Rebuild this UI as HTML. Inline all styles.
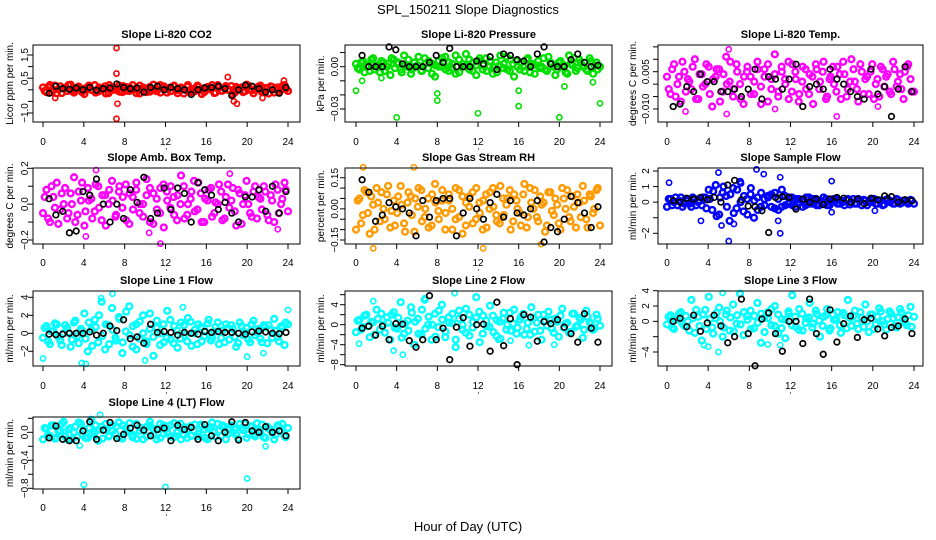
<!DOCTYPE html>
<html><head><meta charset="utf-8"><style>
html,body{margin:0;padding:0;background:#fff;}
svg{display:block;font-family:"Liberation Sans",Arial,sans-serif;}
</style></head><body>
<svg id="chart" width="936" height="540" viewBox="0 0 936 540" xmlns="http://www.w3.org/2000/svg">
<text x="468" y="14" text-anchor="middle" font-size="13">SPL_150211  Slope Diagnostics</text>
<text x="468" y="531" text-anchor="middle" font-size="13">Hour of Day (UTC)</text>
</svg>
<script>
// ---- data ----
const xTicks=[0,4,8,12,16,20,24];
const co2Color=[0.1,-0.1,0.2,0.0,-0.15,0.15,0.05,-0.05,0.22,-0.12,0.1,0.02,-0.18,0.12,0.0,0.2,-0.08,0.05,0.15,-0.14,0.08,0.0,0.18,-0.1,0.12,-0.05,0.2,0.02,-0.16,0.1,0.05,-0.08,0.22,0.0,-0.12,0.15,0.04,-0.06,0.18,-0.15,0.1,0.0,0.2,-0.1,0.06,0.14,-0.18,0.08,0.02,0.2,-0.12,0.1,-0.04,0.16,0.0,-0.2,0.12,0.05,-0.1,0.22,0.0,-0.15,0.1,0.18,-0.06,0.04,0.15,-0.12,0.1,0.0,0.2,-0.05];
const co2Color2=[-0.05,0.12,-0.1,0.18,0.02,-0.14,0.08,0.2,-0.06,0.0,0.14,-0.1,0.06,0.18,-0.02,-0.12,0.1,0.04,-0.16,0.2,0.0,0.08,-0.08,0.16,-0.04,0.1,0.02,-0.14,0.18,0.06,-0.1,0.12,0.0,-0.06,0.2,0.04,-0.12,0.1,0.16,-0.02,0.06,-0.16,0.14,0.0,-0.08,0.18,0.02,-0.1,0.12,0.06,-0.14,0.2,-0.04,0.08,0.0,0.16,-0.12,0.04,0.1,-0.06,0.18,-0.02,0.0,0.14,-0.1,0.08,-0.16,0.12,0.02,-0.08,0.16,0.04];
const co2Black=[-0.15,0.15,0.05,0.02,0.08,0.0,0.1,-0.02,0.05,0.08,0.25,0.1,0.05,0.08,-0.1,0.1,0.15,0.0,0.1,0.05,0.0,-0.2,0.0,0.08,0.1,0.15,0.05,-0.25,0.0,0.2,0.15,0.05,-0.1,0.0,-0.15,0.1];
const co2OutHours=[7.2,7.2,7.3,7.2,18.1,18.7,19.0,21.5,1.2,23.6];
const co2OutVals=[1.8,0.7,-0.6,-1.25,0.55,-0.5,-0.6,-0.35,-0.35,0.4];
const co2Ticks=[-1.0,-0.5,0,0.5,1.0,1.5];
const co2Labels=["-1.0","","","0.5","","1.5"];

const presColor=[0.002,-0.002,0.004,0.0,-0.003,0.006,0.001,-0.004,0.003,0.0,-0.006,0.005,0.002,-0.002,0.008,0.0,-0.005,0.003,0.001,-0.003,0.006,-0.001,0.002,-0.007,0.004,0.0,0.007,-0.003,0.002,-0.005,0.005,0.0,0.009,-0.002,0.003,-0.006,0.006,0.001,-0.003,0.004,0.0,-0.004,0.008,0.002,-0.002,0.005,-0.007,0.0,0.003,-0.003,0.006,0.001,-0.005,0.004,0.0,-0.002,0.007,0.002,-0.006,0.003,0.0,-0.004,0.008,0.001,-0.003,0.005,0.0,-0.002,0.006,-0.005,0.003,0.0];
const presColor2=[-0.001,0.003,-0.004,0.001,0.005,-0.002,0.0,0.004,-0.003,0.002,0.006,-0.001,0.003,-0.004,0.001,0.005,-0.002,0.0,0.007,-0.003,0.002,0.004,-0.005,0.001,0.0,0.006,-0.002,0.003,-0.001,0.008,-0.004,0.002,0.0,0.005,-0.003,0.001,0.004,-0.002,0.006,0.0,-0.005,0.003,0.001,-0.001,0.007,-0.003,0.002,0.004,-0.002,0.0,0.005,-0.004,0.002,0.001,-0.001,0.006,-0.003,0.003,0.0,-0.002,0.004,0.001,-0.005,0.002,0.006,-0.001,0.003,0.0,-0.003,0.004,0.001,-0.002];
const presBlack=[0.008,0.0,0.0,0.0,0.014,0.012,0.002,0.0,0.0,0.0,0.003,0.008,0.003,0.013,0.0,0.0,0.0,0.004,0.002,0.007,-0.002,0.009,0.008,0.005,0.004,0.0,0.009,0.014,0.002,0.0,0.0,0.005,0.009,0.003,0.0,0.001];
const presOutHours=[0,0.6,4,8,8,12,16,16,20,23.3,24,20.5,1.5,2.5];
const presOutVals=[-0.017,-0.01,-0.036,-0.024,-0.019,-0.033,-0.017,-0.028,-0.036,-0.011,-0.026,-0.014,0.005,-0.008];
const presTicks=[0.01,0,-0.01,-0.02,-0.03];
const presLabels=["","0.00","","","-0.03"];

const tempColor=[0.003,-0.004,0.008,0.0,-0.007,0.005,0.002,-0.002,0.01,-0.006,0.004,0.0,0.007,-0.009,0.003,0.006,-0.003,0.011,0.001,-0.005,0.008,0.0,-0.008,0.005,0.003,-0.004,0.009,-0.001,0.006,-0.007,0.002,0.012,-0.003,0.005,0.0,-0.006,0.008,0.002,-0.004,0.007,-0.002,0.004,-0.008,0.006,0.001,0.009,-0.005,0.003,0.0,0.007,-0.006,0.004,-0.002,0.01,0.001,-0.007,0.005,0.002,-0.004,0.008,0.0,-0.005,0.006,0.003,-0.003,0.009,-0.001,0.004,-0.006,0.007,0.002,-0.003];
const tempColor2=[-0.002,0.006,-0.005,0.003,0.009,-0.003,0.001,0.007,-0.006,0.004,-0.001,0.008,-0.004,0.002,0.006,-0.007,0.004,0.0,0.009,-0.002,0.005,-0.006,0.003,0.007,-0.004,0.001,0.006,-0.008,0.003,0.008,-0.002,0.004,-0.005,0.007,0.002,0.009,-0.003,0.005,-0.007,0.001,0.006,-0.004,0.003,0.008,-0.002,0.005,-0.006,0.002,0.007,-0.003,0.004,0.009,-0.005,0.001,0.006,-0.002,0.008,-0.004,0.003,0.005,-0.006,0.002,0.007,-0.001,0.004,-0.004,0.006,0.001,-0.002,0.005,0.008,-0.003];
const tempBlack=[-0.009,-0.008,-0.001,-0.003,0.004,0.001,0.001,-0.003,-0.003,-0.002,-0.005,-0.002,0.006,-0.006,0.003,0.002,-0.002,0.002,0.008,-0.009,-0.001,0.0,-0.002,0.006,0.002,0.0,-0.003,-0.005,-0.006,0.006,-0.004,-0.001,-0.013,-0.002,0.007,-0.003];
const tempOutHours=[1.8,6,5.8,16.5,10.5,20.5];
const tempOutVals=[-0.011,0.014,-0.012,-0.013,-0.01,-0.009];
const tempTicks=[0.015,0.01,0.005,0,-0.005,-0.01];
const tempLabels=["","","0.005","","","-0.010"];

const ambColor=[-0.05,0.08,-0.1,0.04,0.12,-0.03,0.0,-0.08,0.06,0.15,-0.06,0.02,-0.12,0.09,0.03,-0.04,0.1,-0.09,0.05,0.0,0.13,-0.07,0.07,-0.02,0.11,-0.11,0.04,0.08,-0.05,0.0,0.14,-0.1,0.06,-0.03,0.09,-0.13,0.02,0.1,-0.06,0.05,0.16,-0.08,0.0,0.07,-0.04,0.12,-0.1,0.03,0.08,-0.07,0.01,0.11,-0.09,0.04,-0.02,0.09,-0.12,0.06,0.0,0.13,-0.05,0.07,-0.08,0.03,0.1,-0.06,0.05,-0.1,0.08,0.0,0.12,-0.04];
const ambColor2=[0.04,-0.08,0.1,-0.02,-0.11,0.06,0.09,-0.05,0.0,-0.1,0.07,0.12,-0.04,0.02,-0.08,0.11,-0.02,0.05,-0.12,0.08,0.02,-0.06,0.1,0.04,-0.09,0.06,-0.03,0.12,0.0,-0.07,0.05,0.09,-0.11,0.03,-0.05,0.11,0.07,-0.02,0.04,-0.09,0.0,0.1,-0.06,0.03,0.13,-0.03,0.06,-0.1,0.02,0.09,-0.05,0.0,0.07,-0.08,0.11,0.02,-0.04,0.08,-0.11,0.05,0.0,-0.07,0.1,0.04,-0.03,0.07,-0.09,0.02,0.11,-0.05,0.03,0.08];
const ambBlack=[0.03,-0.06,-0.04,-0.16,-0.15,0.07,0.05,0.14,0.0,-0.1,0.0,-0.08,0.08,0.01,0.15,-0.08,-0.05,0.09,-0.03,0.09,0.06,-0.1,0.12,0.08,0.05,-0.03,0.01,-0.05,-0.1,0.04,0.04,0.08,-0.04,0.1,-0.05,0.07];
const ambOutHours=[4.2,5.2,11.5,10.4,18.3,23];
const ambOutVals=[-0.18,0.19,-0.22,-0.16,0.17,-0.14];
const ambTicks=[0.2,0.1,0,-0.1,-0.2];
const ambLabels=["0.2","","0.0","","-0.2"];

const rhColor=[-0.1,0.05,-0.03,0.08,-0.12,0.02,0.1,-0.06,0.0,0.07,-0.09,0.04,-0.02,0.11,-0.07,0.03,0.06,-0.11,0.01,0.09,-0.04,0.05,-0.08,0.12,-0.01,0.04,-0.1,0.07,0.0,-0.05,0.09,-0.12,0.03,0.06,-0.07,0.1,-0.02,0.04,-0.09,0.08,0.01,-0.06,0.11,-0.03,0.05,-0.1,0.07,0.0,-0.08,0.12,-0.04,0.03,0.09,-0.06,0.02,-0.11,0.08,-0.01,0.05,-0.07,0.1,0.0,-0.04,0.06,-0.09,0.03,0.11,-0.05,0.07,-0.02,0.09,-0.08];
const rhColor2=[0.04,-0.07,0.09,-0.02,0.06,-0.1,0.03,0.08,-0.05,0.11,-0.01,-0.08,0.06,0.02,-0.11,0.08,-0.03,0.05,0.1,-0.06,0.0,-0.09,0.07,0.03,-0.05,0.09,-0.02,0.04,-0.1,0.1,-0.04,0.06,-0.08,0.01,0.08,-0.05,0.03,-0.1,0.07,0.0,0.1,-0.03,-0.07,0.05,0.02,0.09,-0.06,0.04,-0.02,0.07,-0.09,0.1,0.0,-0.04,0.06,0.03,-0.08,0.08,-0.03,0.02,-0.1,0.05,0.09,-0.06,0.01,0.07,-0.04,0.04,-0.09,0.06,0.0,0.1];
const rhBlack=[0.14,0.08,-0.06,-0.03,0.03,0.01,0.0,-0.02,-0.13,0.04,-0.04,0.04,0.05,0.05,-0.13,-0.02,0.05,0.0,-0.05,0.03,0.07,-0.04,0.04,-0.02,-0.03,0.0,0.04,-0.16,-0.09,-0.11,-0.05,0.06,0.03,-0.02,-0.09,0.01];
const rhOutHours=[0.7,1.7,5.7,12.5,18.2];
const rhOutVals=[0.2,-0.19,0.2,-0.19,-0.17];
const rhTicks=[0.15,0.1,0.05,0,-0.05,-0.1,-0.15];
const rhLabels=["0.15","","","0.00","","","-0.15"];

const sfColor=[-0.3,0.2,0.0,-0.2,0.3,-0.1,0.1,-0.3,0.2,0.0,-0.2,0.3,0.8,-0.5,1.1,-0.8,0.6,0.4,-1.2,0.9,-0.4,1.3,-0.6,0.2,0.5,-1.0,0.3,-0.3,0.2,0.4,-0.3,0.6,-0.5,0.8,-0.2,0.3,-0.2,0.2,0.0,-0.3,0.3,-0.1,0.2,-0.2,0.1,0.3,-0.2,0.0,0.2,-0.1,0.1,-0.2,0.2,0.0,-0.1,0.2,-0.2,0.1,0.0,0.2,-0.1,0.1,-0.2,0.15,0.0,-0.1,0.2,-0.1,0.1,0.0,0.15,-0.1];
const sfColor2=[0.2,-0.2,0.3,0.1,-0.3,0.2,-0.1,0.3,-0.2,0.1,0.3,-0.4,0.2,0.7,-0.9,0.3,1.0,-0.3,0.5,-0.7,0.8,0.0,0.4,-0.8,0.9,0.1,-0.5,0.6,-0.2,0.3,0.5,-0.4,0.2,-0.3,0.4,-0.1,0.3,-0.3,0.2,0.1,-0.2,0.3,-0.1,0.2,-0.2,0.0,0.2,-0.2,0.1,0.2,-0.1,0.0,0.15,-0.15,0.2,-0.1,0.1,0.15,-0.2,0.0,0.2,-0.1,0.1,-0.15,0.2,0.05,-0.1,0.15,-0.05,0.1,-0.1,0.1];
const sfBlack=[0.1,0.0,0.25,0.2,0.3,0.15,0.3,0.0,1.1,1.4,0.15,-0.25,-0.3,-0.55,-1.95,0.3,0.35,0.3,-0.45,0.2,0.0,0.2,-0.15,0.2,0.3,0.25,0.0,0.2,-0.1,0.25,0.15,0.4,0.35,0.0,0.15,0.1];
const sfOutHours=[0.2,5,6,8.7,9.4,11,11,10.8,16,16,5.3,6.5,7.2,20.2,3.3];
const sfOutVals=[1.25,1.9,-2.5,2.1,1.8,1.6,-2,-1.2,1.35,-0.65,-1.5,-1.4,1.2,-0.55,-1.2];
const sfTicks=[2,1,0,-1,-2];
const sfLabels=["2","1","0","","-2"];

const l1Color=[-0.5,0.8,-1.2,0.3,1.0,-0.8,0.0,0.6,-1.5,1.2,-0.3,0.5,2.2,-2.0,0.4,1.5,-1.0,3.5,-1.8,0.9,2.8,-0.5,1.8,-2.2,0.2,3.0,-1.5,1.0,-0.6,2.0,-1.2,0.5,-2.5,1.4,0.0,-1.0,2.5,-0.7,0.8,-1.6,1.2,-0.2,1.7,-1.4,0.4,1.0,-0.9,0.2,1.5,-0.5,0.7,-1.2,0.3,1.0,-0.7,0.5,-1.5,1.2,-0.2,0.6,-1.0,1.4,0.1,-0.6,0.9,-1.1,0.4,1.6,-0.4,0.8,-1.3,1.0];
const l1Color2=[0.6,-0.9,0.2,1.1,-0.4,-1.3,0.9,0.1,-0.7,1.4,-1.1,0.3,-0.6,1.2,-1.4,0.7,2.0,-0.3,1.0,-1.2,0.4,-0.8,1.6,-1.0,2.4,-0.2,0.8,-1.8,1.3,0.0,-0.9,2.2,-0.4,0.6,-1.3,1.0,-0.5,1.5,-1.1,0.3,-0.6,0.9,-0.9,1.3,0.0,-1.2,0.7,-0.3,1.1,-0.8,0.2,1.2,-0.5,-1.0,0.6,0.9,-0.4,-1.1,0.8,0.1,-0.7,1.0,-0.2,0.5,-1.0,0.7,0.9,-0.5,0.3,-0.9,0.6,1.2];
const l1Black=[-0.1,-0.15,-0.1,0.0,0.0,0.0,0.15,-0.2,0.0,0.8,0.3,1.5,-0.6,-0.4,-1.1,1.0,0.1,0.2,0.1,-0.2,0.1,0.0,-0.1,0.2,0.1,0.2,0.1,0.1,0.0,-0.1,0.15,0.25,0.15,0.0,-0.05,0.1];
const l1OutHours=[0,3.8,4.2,6.8,5.7,10,20,24,13.7,21.6];
const l1OutVals=[-2.8,-3.3,-3.4,4.4,3.9,-3,-2.6,2.6,2.9,-2.2];
const l1Ticks=[4,2,0,-2];
const l1Labels=["4","2","0","-2"];

const l2Color=[-1.5,1.0,-0.5,2.0,-2.5,0.5,3.0,-1.0,0.0,1.5,-3.0,2.5,-0.8,4.5,-1.8,0.8,3.5,-4.0,1.2,-2.0,5.0,0.0,-3.0,2.2,-0.5,4.0,-2.5,1.5,0.3,-4.5,2.8,-1.0,3.2,-2.2,0.6,5.5,-3.5,1.8,-0.3,3.8,-1.5,0.9,-2.8,2.4,0.0,-1.2,3.0,-0.6,1.6,-2.0,0.4,3.5,-1.4,2.0,-3.0,0.8,2.6,-0.8,1.2,-2.4,3.2,0.2,-1.6,2.2,-0.4,1.4,-2.6,2.8,0.5,-1.0,2.0,-0.2];
const l2Color2=[0.8,-1.0,1.8,-0.3,0.6,-2.0,1.2,2.2,-1.6,0.4,2.0,-0.6,1.4,-2.6,0.2,-1.2,2.4,0.6,-1.8,3.0,-0.8,1.6,0.0,-2.4,2.8,1.0,-1.4,0.4,2.2,-3.0,1.2,0.0,-1.6,2.0,-0.6,1.4,2.6,-1.8,0.8,-0.4,1.8,-2.2,0.6,1.2,-1.0,2.4,0.2,-1.8,1.0,2.2,-0.8,-2.0,1.4,0.4,-1.2,2.0,-0.2,1.0,-1.6,0.6,1.8,-0.6,0.4,-1.4,2.2,-0.2,1.0,-1.0,1.6,0.2,-0.8,1.2];
const l2Black=[-0.7,-0.3,-2.1,-0.3,-3,0.2,0.1,-3.2,-4.5,-3,5.8,-3,-0.7,-7,-0.5,1.4,-4.3,0.0,0.1,-5.3,4.5,-4.2,1.2,-8,2,1.5,-3.3,0.6,0.2,1.0,-0.5,-1.8,-3.5,2.2,-0.7,-3.5];
const l2OutHours=[0.3,1.7,3.7,4.6,6.8,9.7,14,15.2,19.5,17];
const l2OutVals=[-3.8,4.7,-5.2,-6,5.3,6.3,-3,-3.2,-4,-4.1];
const l2Ticks=[6,4,2,0,-2,-4,-6,-8];
const l2Labels=["","4","","0","","-4","","-8"];

const l3Color=[-0.4,0.8,-1.0,0.3,1.2,-0.6,0.0,2.8,-1.5,0.6,-2.5,1.5,3.2,-0.8,0.4,1.8,-2.0,0.9,-1.2,2.2,-0.3,3.6,-1.8,0.7,1.4,-0.9,2.4,-2.8,0.5,1.2,-0.5,2.0,-1.6,0.3,-2.2,1.0,3.4,-0.7,1.6,-1.2,0.4,2.4,-0.3,1.0,-2.0,0.6,1.6,-0.9,0.2,1.2,-1.5,0.8,2.8,-0.6,1.4,-1.0,0.5,2.2,-1.4,0.9,-0.4,1.7,0.0,-1.1,1.3,0.4,-0.8,1.6,0.2,-0.5,1.9,0.6];
const l3Color2=[0.6,-0.8,0.2,1.0,-0.3,0.7,-1.2,0.4,1.5,-0.6,0.9,-1.0,0.3,-1.6,1.1,0.0,-0.8,1.4,0.5,-1.3,0.8,-0.4,1.2,0.2,-1.0,0.7,-0.2,1.0,-1.4,0.4,1.6,-0.6,0.9,-0.9,0.2,1.3,-0.5,0.6,-1.1,1.0,-0.2,0.5,-0.8,1.4,0.1,-0.6,0.8,-1.2,0.9,0.3,-0.5,1.1,-0.9,0.4,0.7,-0.3,1.2,-0.7,0.0,0.9,-1.0,0.6,1.3,-0.4,0.3,1.0,-0.6,0.5,1.2,-0.2,0.8,-0.7];
const l3Black=[0.0,0.4,-0.7,0.8,-1.3,-0.2,0.8,-0.6,-2.8,-2,2.9,-1.6,-5.8,0.3,1.1,-1.6,-3.9,0.0,0.0,-2.9,2.9,-1.6,-4.3,1.5,-2.7,-0.3,0.7,-2.1,0.2,0.4,-1,-1.9,-0.8,-0.6,0.3,-1.6];
const l3OutHours=[5,4,3.6,9.8,11,5.4];
const l3OutVals=[-4,-3.3,-3.1,-3,-3.1,3.7];
const l3Ticks=[4,2,0,-2,-4];
const l3Labels=["4","2","0","","-4"];

const l4Color=[-0.1,0.05,-0.05,0.1,-0.08,0.02,0.15,-0.1,0.06,0.0,-0.06,0.12,0.03,-0.08,0.18,0.0,-0.12,0.08,0.04,-0.06,0.1,-0.02,0.14,-0.09,0.06,0.0,-0.07,0.12,0.02,-0.1,0.08,0.15,-0.04,0.05,-0.08,0.1,0.0,-0.06,0.13,0.02,-0.1,0.07,0.04,-0.05,0.11,-0.02,0.09,-0.08,0.05,0.14,-0.06,0.02,0.1,-0.1,0.06,0.0,-0.04,0.12,0.03,-0.08,0.09,-0.03,0.13,0.0,-0.07,0.08,0.04,-0.1,0.1,0.02,-0.05,0.06];
const l4Color2=[0.06,-0.04,0.1,-0.09,0.02,0.12,-0.06,0.04,-0.1,0.08,0.14,-0.03,-0.08,0.06,-0.02,0.1,0.04,-0.09,0.12,-0.05,0.02,0.08,-0.08,0.1,0.0,0.13,-0.04,-0.09,0.07,0.03,-0.06,0.1,0.05,-0.1,0.12,-0.02,0.06,0.1,-0.07,0.0,0.12,-0.04,-0.08,0.09,0.02,-0.06,0.11,0.04,-0.1,0.07,0.0,0.12,-0.05,0.08,-0.02,0.1,0.04,-0.09,0.06,0.12,-0.03,0.08,-0.06,0.03,0.11,-0.08,0.05,0.0,-0.04,0.09,0.12,-0.07];
const l4Black=[-0.08,0.09,-0.1,-0.12,-0.12,0.02,0.15,-0.1,0.03,0.14,-0.09,-0.03,0.06,0.1,0.03,-0.05,0.04,0.06,-0.12,0.1,0.04,0.07,-0.1,0.11,-0.05,-0.12,0.0,0.15,-0.11,0.14,0.02,0.0,0.08,0.0,0.02,-0.05];
const l4OutHours=[4,12,20,5.6,3.6,21.8];
const l4OutVals=[-0.75,-0.78,-0.66,0.25,-0.19,-0.2];
const l4Ticks=[0.2,0,-0.2,-0.4,-0.6,-0.8];
const l4Labels=["","0.0","","-0.4","","-0.8"];

// ---- layout (geometry, not data) ----
const cols=[{x0:33,x1:300,h0:43,h24:288,yl:9,tl:24},{x0:345,x1:612,h0:356,h24:600,yl:320,tl:334},{x0:658,x1:923,h0:667,h24:914,yl:632,tl:645}];
const rows=[{y0:45,y1:122,lab:145,title:38},{y0:168,y1:244,lab:266,title:161},{y0:291,y1:366,lab:389,title:284},{y0:417,y1:489,lab:511,title:406}];
const panels=[
 {id:"co2",c:0,r:0,title:"Slope Li-820 CO2",ylab:"Licor ppm per min.",color:"#ff0000",col:co2Color,col2:co2Color2,blk:co2Black,oh:co2OutHours,ov:co2OutVals,ticks:co2Ticks,labels:co2Labels,a:[1.5,55,-1.0,113]},
 {id:"pressure",c:1,r:0,title:"Slope Li-820 Pressure",ylab:"kPa per min.",color:"#00e000",col:presColor,col2:presColor2,blk:presBlack,oh:presOutHours,ov:presOutVals,ticks:presTicks,labels:presLabels,a:[0,66.7,-0.03,109]},
 {id:"temp",c:2,r:0,title:"Slope Li-820 Temp.",ylab:"degrees C per min.",color:"#ff00ff",col:tempColor,col2:tempColor2,blk:tempBlack,oh:tempOutHours,ov:tempOutVals,ticks:tempTicks,labels:tempLabels,a:[0.005,71.7,-0.01,109]},
 {id:"amb-temp",c:0,r:1,title:"Slope Amb. Box Temp.",ylab:"degrees C per min.",color:"#ff00ff",col:ambColor,col2:ambColor2,blk:ambBlack,oh:ambOutHours,ov:ambOutVals,ticks:ambTicks,labels:ambLabels,a:[0.2,168.3,-0.2,240]},
 {id:"rh",c:1,r:1,title:"Slope Gas Stream RH",ylab:"percent per min.",color:"#ff9a00",col:rhColor,col2:rhColor2,blk:rhBlack,oh:rhOutHours,ov:rhOutVals,ticks:rhTicks,labels:rhLabels,a:[0.15,177.7,-0.15,240]},
 {id:"sample-flow",c:2,r:1,title:"Slope Sample Flow",ylab:"ml/min per min.",color:"#0000ff",col:sfColor,col2:sfColor2,blk:sfBlack,oh:sfOutHours,ov:sfOutVals,ticks:sfTicks,labels:sfLabels,a:[2,171,-2,233.3]},
 {id:"line1",c:0,r:2,title:"Slope Line 1 Flow",ylab:"ml/min per min.",color:"#00ffff",col:l1Color,col2:l1Color2,blk:l1Black,oh:l1OutHours,ov:l1OutVals,ticks:l1Ticks,labels:l1Labels,a:[4,297.3,-2,351.3]},
 {id:"line2",c:1,r:2,title:"Slope Line 2 Flow",ylab:"ml/min per min.",color:"#00ffff",col:l2Color,col2:l2Color2,blk:l2Black,oh:l2OutHours,ov:l2OutVals,ticks:l2Ticks,labels:l2Labels,a:[4,304.7,-8,364.7]},
 {id:"line3",c:2,r:2,title:"Slope Line 3 Flow",ylab:"ml/min per min.",color:"#00ffff",col:l3Color,col2:l3Color2,blk:l3Black,oh:l3OutHours,ov:l3OutVals,ticks:l3Ticks,labels:l3Labels,a:[4,290.7,-4,352]},
 {id:"line4",c:0,r:3,title:"Slope Line 4 (LT) Flow",ylab:"ml/min per min.",color:"#00ffff",col:l4Color,col2:l4Color2,blk:l4Black,oh:l4OutHours,ov:l4OutVals,ticks:l4Ticks,labels:l4Labels,a:[0,432.3,-0.8,488.3]}
];
const NS="http://www.w3.org/2000/svg";
const svg=document.getElementById('chart');
function mk(tag,attrs,parent){const e=document.createElementNS(NS,tag);for(const k in attrs)e.setAttribute(k,attrs[k]);(parent||svg).appendChild(e);return e;}
panels.forEach(p=>{
 const C=cols[p.c],R=rows[p.r];
 const g=mk('g',{});
 
 
 const xs=h=>C.h0+(C.h24-C.h0)*h/24;
 const ys=v=>p.a[1]+(p.a[3]-p.a[1])*(v-p.a[0])/(p.a[2]-p.a[0]);
 const cx=(C.x0+C.x1)/2;
 const t=mk('text',{x:cx,y:R.title,'text-anchor':'middle','font-size':'11','font-weight':'bold'},g);t.textContent=p.title;
 
 
 const yl=mk('text',{x:0,y:0,'text-anchor':'middle','font-size':'10',transform:`translate(${C.yl+4},${(R.y0+R.y1)/2}) rotate(-90)`},g);yl.textContent=p.ylab;
 
 
 const clip=mk('g',{},g);
 const n=p.col.length;
 p.col.forEach((v,i)=>{
  const c=mk('circle',{cx:xs(i*24/(n-1)),cy:ys(v),r:2.9,fill:'none',stroke:p.color,'stroke-width':2.4},clip);
  
  
 });
 const n2=p.col2.length;
 p.col2.forEach((v,i)=>{
  const c=mk('circle',{cx:xs(0.17+i*23.6/(n2-1)),cy:ys(v),r:2.9,fill:'none',stroke:p.color,'stroke-width':2.4},clip);
  
  
 });
 p.oh.forEach((h,i)=>{
  const c=mk('circle',{cx:xs(h),cy:ys(p.ov[i]),r:2.6,fill:'none',stroke:p.color,'stroke-width':1.6},clip);
  
  
 });
 const m=p.blk.length;
 p.blk.forEach((v,i)=>{
  const c=mk('circle',{cx:xs(0.6+i*23.2/(m-1)),cy:ys(v),r:2.8,fill:'none',stroke:'#000','stroke-width':1.7},clip);
  
  
 });
 const box=mk('rect',{x:C.x0,y:R.y0,width:C.x1-C.x0,height:R.y1-R.y0,fill:'none',stroke:'#000','stroke-width':1},g);
 
 
 mk('line',{x1:xs(0),x2:xs(24),y1:R.y1,y2:R.y1,stroke:'#000'},g);
 xTicks.forEach(h=>{
  mk('line',{x1:xs(h),x2:xs(h),y1:R.y1,y2:R.y1+5,stroke:'#000'},g);
  const tl=mk('text',{x:xs(h),y:R.lab,'text-anchor':'middle','font-size':'10'},g);tl.textContent=h;
  
  
 });
 mk('circle',{cx:cx,cy:R.lab+4,r:0.6,fill:'#000'},g);
 mk('line',{x1:C.x0,x2:C.x0,y1:ys(p.ticks[0]),y2:ys(p.ticks[p.ticks.length-1]),stroke:'#000'},g);
 p.ticks.forEach((v,i)=>{
  mk('line',{x1:C.x0-5,x2:C.x0,y1:ys(v),y2:ys(v),stroke:'#000'},g);
  if(p.labels[i]){
   const yt=mk('text',{x:0,y:0,'text-anchor':'middle','font-size':'10',transform:`translate(${C.tl+4},${ys(v)}) rotate(-90)`},g);
   yt.textContent=p.labels[i].replace('-','\u2212');
   
   
  }
 });
});
</script>
</body></html>
